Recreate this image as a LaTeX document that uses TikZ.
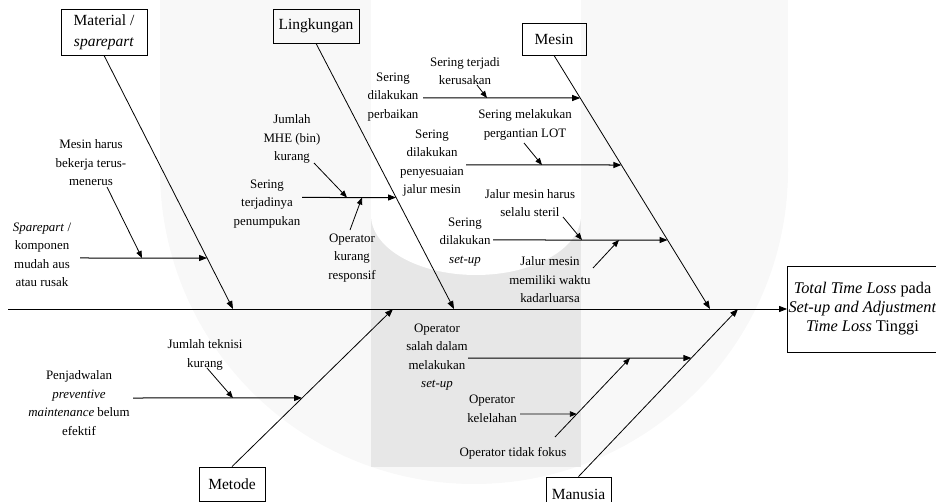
\documentclass[tikz,border=0pt]{standalone}
\usepackage{fontspec}
\setmainfont{Liberation Serif}
\usetikzlibrary{arrows.meta}
\definecolor{wmlight}{RGB}{248,248,248}
\definecolor{wmgray}{RGB}{231,231,231}
\begin{document}
\begin{tikzpicture}[x=1pt,y=-1pt,
  lbl/.style={align=center,font=\fontsize{12.9}{18.5}\selectfont,inner sep=0pt},
  catbox/.style={draw,line width=0.8pt,align=center,font=\fontsize{15.5}{21}\selectfont,inner sep=0pt},
  bone/.style={line width=0.8pt,-{Triangle[length=8pt,width=6pt]}},
  cause/.style={line width=1pt,-{Triangle[length=8pt,width=6pt]}},
  sub/.style={line width=0.8pt,-{Triangle[length=7pt,width=5.5pt]}}]
\useasboundingbox (0,0) rectangle (936,502);
% watermark
\fill[wmlight] (160,-10) rectangle (788,170);
\fill[wmlight] (474,170) circle[radius=314pt];
\fill[white] (371,-10) rectangle (581,215);
\fill[wmgray] (371,215) rectangle (581,467);
\fill[white] (476,215) ellipse[x radius=105pt, y radius=60pt];

% category boxes
\node[catbox,minimum width=86pt,minimum height=46pt] (material) at (104,32) {Material /\\\textit{sparepart}};
\node[catbox,minimum width=86pt,minimum height=34pt] (lingkungan) at (316,26) {Lingkungan};
\node[catbox,minimum width=64pt,minimum height=32pt] (mesin) at (554,39) {Mesin};
\node[catbox,minimum width=66pt,minimum height=34pt] (metode) at (232,484) {Metode};
\node[catbox,minimum width=65pt,minimum height=34pt] (manusia) at (578.5,494) {Manusia};
\node[draw,line width=0.8pt,minimum width=150pt,minimum height=86pt,align=center,inner sep=0pt,font=\fontsize{16.3}{19}\selectfont] (effect) at (862.5,309) {\textit{Total Time Loss} pada\\\textit{Set-up and Adjustment}\\\textit{Time Loss} Tinggi};

% spine and bones
\coordinate (spinestart) at (8,309);
\draw[bone] (spinestart) -- (effect.west);
\coordinate (mattip) at (233,309);
\coordinate (lingtip) at (454,309);
\coordinate (mestip) at (710,309);
\coordinate (mettip) at (393,309);
\coordinate (mantip) at (738,309);
\draw[bone] (material.south) -- (mattip);
\draw[bone] (lingkungan.south) -- (lingtip);
\draw[bone] (mesin.south) -- (mestip);
\draw[bone] (metode.north) -- (mettip);
\draw[bone] (manusia.north) -- (mantip);

% labels
\node[lbl] (spare) at (42,255) {\textit{Sparepart} /\\komponen\\mudah aus\\atau rusak};
\node[lbl] (mesinharus) at (91,163) {Mesin harus\\bekerja terus-\\menerus};
\node[lbl] (terjadinya) at (267,204) {Sering\\terjadinya\\penumpukan};
\node[lbl] (mhe) at (292,139) {Jumlah\\MHE (bin)\\kurang};
\node[lbl] (opkurang) at (352,258) {Operator\\kurang\\responsif};
\node[lbl] (perbaikan) at (393,97) {Sering\\dilakukan\\perbaikan};
\node[lbl] (kerusakan) at (465,71) {Sering terjadi\\kerusakan};
\node[lbl] (penyesuaian) at (432,163) {Sering\\dilakukan\\penyesuaian\\jalur mesin};
\node[lbl] (lot) at (525,125) {Sering melakukan\\pergantian LOT};
\node[lbl] (setup) at (465,242) {Sering\\dilakukan\\\textit{set-up}};
\node[lbl] (steril) at (530,203) {Jalur mesin harus\\selalu steril};
\node[lbl] (kadar) at (550,280) {Jalur mesin\\memiliki waktu\\kadarluarsa};
\node[lbl] (penjadwalan) at (79,403) {Penjadwalan\\\textit{preventive}\\\textit{maintenance} belum\\efektif};
\node[lbl] (teknisi) at (205,355) {Jumlah teknisi\\kurang};
\node[lbl] (opsalah) at (437,357) {Operator\\salah dalam\\melakukan\\\textit{set-up}};
\node[lbl] (kelelahan) at (492,409) {Operator\\kelelahan};
\node[lbl] (fokus) at (513,453) {Operator tidak fokus};

% cause line start points
\coordinate (c1s) at (80,258);
\coordinate (c2s) at (302,197.5);
\coordinate (c3s) at (423,98);
\coordinate (c4s) at (466,165);
\coordinate (c5s) at (493,240);
\coordinate (c6s) at (133,398);
\coordinate (c7s) at (468,358);
% cause line ends on bones
\path (intersection cs:first line={(material.south)--(mattip)},second line={(0,258)--(100,258)}) coordinate (c1e);
\path (intersection cs:first line={(lingkungan.south)--(lingtip)},second line={(0,197.5)--(100,197.5)}) coordinate (c2e);
\path (intersection cs:first line={(mesin.south)--(mestip)},second line={(0,98)--(100,98)}) coordinate (c3e);
\path (intersection cs:first line={(mesin.south)--(mestip)},second line={(0,165)--(100,165)}) coordinate (c4e);
\path (intersection cs:first line={(mesin.south)--(mestip)},second line={(0,240)--(100,240)}) coordinate (c5e);
\path (intersection cs:first line={(metode.north)--(mettip)},second line={(0,398)--(100,398)}) coordinate (c6e);
\path (intersection cs:first line={(manusia.north)--(mantip)},second line={(0,358)--(100,358)}) coordinate (c7e);
\draw[cause] (c1s) -- (c1e);
\draw[cause] (c2s) -- (c2e);
\draw[cause] (c3s) -- (c3e);
\draw[cause] (c4s) -- (c4e);
\draw[cause] (c5s) -- (c5e);
\draw[cause] (c6s) -- (c6e);
\draw[cause] (c7s) -- (c7e);

% sub-causes
\coordinate (s1s) at (107,187); \coordinate (s1e) at (142,258);
\coordinate (s2s) at (314,163); \coordinate (s2e) at (347,197.5);
\coordinate (s3s) at (350,230); \coordinate (s3e) at (362,197.5);
\coordinate (s4s) at (477,85);  \coordinate (s4e) at (487,98);
\coordinate (s5s) at (524,143); \coordinate (s5e) at (542,165);
\coordinate (s6s) at (563,217); \coordinate (s6e) at (582,240);
\coordinate (s7s) at (593,268); \coordinate (s7e) at (619,240);
\coordinate (s8s) at (207,368); \coordinate (s8e) at (233,398);
\coordinate (s9s) at (555,437); \coordinate (s9e) at (630,358);
\coordinate (s10s) at (520,414);
\path (intersection cs:first line={(s9s)--(s9e)},second line={(0,414)--(100,414)}) coordinate (s10e);
\foreach \i in {1,...,10} {\draw[sub] (s\i s) -- (s\i e);}
\end{tikzpicture}
\end{document}
